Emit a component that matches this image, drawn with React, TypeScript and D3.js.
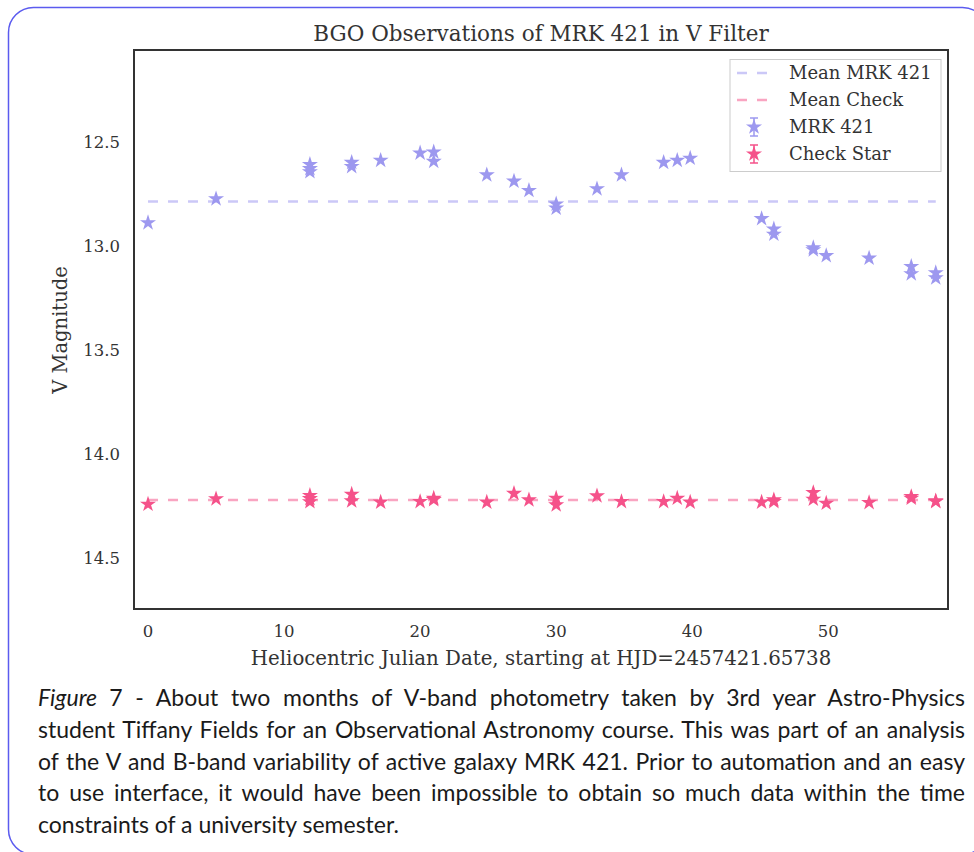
import { useEffect, useRef } from "react";
import * as d3 from "d3";

// observation dates (days after HJD 2457421.65738)
const days = [0, 5.0, 11.9, 11.9, 11.9, 14.97, 14.97, 17.1, 20, 21, 21, 24.9, 26.9, 28, 30, 30, 33, 34.8, 37.9, 38.9, 39.85, 45.1, 46, 46, 48.9, 48.9, 49.85, 53, 56.1, 56.1, 57.9, 57.9];
const mrkMag = [12.89, 12.775, 12.61, 12.63, 12.645, 12.6, 12.62, 12.59, 12.555, 12.55, 12.595, 12.66, 12.69, 12.735, 12.8, 12.82, 12.727, 12.66, 12.6, 12.59, 12.58, 12.87, 12.92, 12.945, 13.01, 13.02, 13.048, 13.06, 13.1, 13.135, 13.13, 13.155];
const checkMag = [14.242, 14.216, 14.2, 14.215, 14.23, 14.194, 14.226, 14.232, 14.229, 14.213, 14.22, 14.232, 14.19, 14.221, 14.213, 14.245, 14.202, 14.229, 14.229, 14.213, 14.232, 14.232, 14.221, 14.229, 14.186, 14.218, 14.237, 14.234, 14.205, 14.213, 14.229, 14.226];
const meanMrk = 12.788;
const meanCheck = 14.221;
const xTicks = [0, 10, 20, 30, 40, 50];
const yTicks = [12.5, 13.0, 13.5, 14.0, 14.5];
const legendLabels = ["Mean MRK 421", "Mean Check", "MRK 421", "Check Star"];

const captionLines = [
  "7 - About two months of V-band photometry taken by 3rd year Astro-Physics",
  "student Tiffany Fields for an Observational Astronomy course. This was part of an analysis",
  "of the V and B-band variability of active galaxy MRK 421. Prior to automation and an easy",
  "to use interface, it would have been impossible to obtain so much data within the time",
  "constraints of a university semester.",
];

const MRK_COLOR = "#9d98ef";
const MRK_MEAN = "#cbc8f7";
const CHECK_COLOR = "#f5528a";
const CHECK_MEAN = "#f9a5c1";
const SERIF = "'DejaVu Serif', serif";

export default function App() {
  const captionRef = useRef<SVGGElement>(null);

  const left = 134, right = 948, top = 50, bottom = 609;
  const x = d3.scaleLinear().domain([-1.03, 58.8]).range([left, right]);
  const y = d3.scaleLinear().domain([12.06, 14.745]).range([top, bottom]);
  const star = d3.symbol(d3.symbolStar, 80)();
  const meanLine = d3.line<[number, number]>().x((d) => x(d[0])).y((d) => y(d[1]));
  const xExtent = d3.extent(days) as [number, number];

  // justify caption lines by adjusting word spacing
  useEffect(() => {
    const g = captionRef.current;
    if (!g) return;
    const lines = g.querySelectorAll<SVGTextElement>("text.just");
    lines.forEach((t) => {
      t.setAttribute("word-spacing", "0");
      const w = t.getComputedTextLength();
      const spaces = (t.textContent || "").split(" ").length - 1;
      const target = 965 - 38;
      if (spaces > 0) t.setAttribute("word-spacing", String((target - w) / spaces));
    });
  }, []);

  return (
    <svg width={974} height={852} style={{ position: "absolute", left: 0, top: 0 }}>
      <rect x={8.5} y={7.5} width={979} height={847} rx={25} fill="#fff" stroke="#5b5bef" strokeWidth={1.5} />

      <text x={(left + right) / 2} y={41} textAnchor="middle" fontFamily={SERIF} fontSize={21.5} fill="#333">
        BGO Observations of MRK 421 in V Filter
      </text>

      {/* mean lines */}
      <path d={meanLine([[xExtent[0], meanMrk], [xExtent[1], meanMrk]]) || ""} stroke={MRK_MEAN} strokeWidth={2.5} strokeDasharray="10,10" fill="none" />
      <path d={meanLine([[xExtent[0], meanCheck], [xExtent[1], meanCheck]]) || ""} stroke={CHECK_MEAN} strokeWidth={2.5} strokeDasharray="10,10" fill="none" />

      {days.map((d, i) => (
        <path key={"m" + i} d={star} transform={`translate(${x(d)},${y(mrkMag[i])})`} fill={MRK_COLOR} />
      ))}
      {days.map((d, i) => (
        <path key={"c" + i} d={star} transform={`translate(${x(d)},${y(checkMag[i])})`} fill={CHECK_COLOR} />
      ))}

      <rect x={left} y={top} width={right - left} height={bottom - top} fill="none" stroke="#333" strokeWidth={2} />

      {xTicks.map((t) => (
        <text key={t} x={x(t)} y={637} textAnchor="middle" fontFamily={SERIF} fontSize={16.5} fill="#333">
          {t}
        </text>
      ))}
      {yTicks.map((t) => (
        <text key={t} x={120} y={y(t) + 6} textAnchor="end" fontFamily={SERIF} fontSize={16.5} fill="#333">
          {t.toFixed(1)}
        </text>
      ))}
      <text x={541} y={665} textAnchor="middle" fontFamily={SERIF} fontSize={19.8} fill="#333">
        Heliocentric Julian Date, starting at HJD=2457421.65738
      </text>
      <text transform="translate(67,330) rotate(-90)" textAnchor="middle" fontFamily={SERIF} fontSize={19.5} fill="#333">
        V Magnitude
      </text>

      {/* legend */}
      <g>
        <rect x={730} y={59.5} width={211} height={112} fill="#fff" stroke="#ccc" strokeWidth={1} />
        {legendLabels.map((label, i) => {
          const cy = 73 + i * 27;
          return (
            <g key={label}>
              {i === 0 && <line x1={737} x2={771} y1={cy} y2={cy} stroke={MRK_MEAN} strokeWidth={2.5} strokeDasharray="10,10" />}
              {i === 1 && <line x1={737} x2={771} y1={cy} y2={cy} stroke={CHECK_MEAN} strokeWidth={2.5} strokeDasharray="10,10" />}
              {i >= 2 && (
                <g stroke={i === 2 ? MRK_COLOR : CHECK_COLOR} strokeWidth={1.5}>
                  <line x1={754} x2={754} y1={cy - 9} y2={cy + 9} />
                  <line x1={750} x2={758} y1={cy - 9} y2={cy - 9} />
                  <line x1={750} x2={758} y1={cy + 9} y2={cy + 9} />
                  <path d={star} transform={`translate(754,${cy})`} fill={i === 2 ? MRK_COLOR : CHECK_COLOR} stroke="none" />
                </g>
              )}
              <text x={789} y={cy + 6} fontFamily={SERIF} fontSize={18} fill="#333">
                {label}
              </text>
            </g>
          );
        })}
      </g>

      {/* caption */}
      <g ref={captionRef} fontFamily="Lato, 'Open Sans', sans-serif" fontSize={23} fill="#1a1a1a">
        {captionLines.map((line, i) => (
          <text key={i} className={i < 4 ? "just" : ""} x={38} y={706 + i * 31.75}>
            {i === 0 && <tspan fontStyle="italic">Figure </tspan>}
            {line}
          </text>
        ))}
      </g>
    </svg>
  );
}
